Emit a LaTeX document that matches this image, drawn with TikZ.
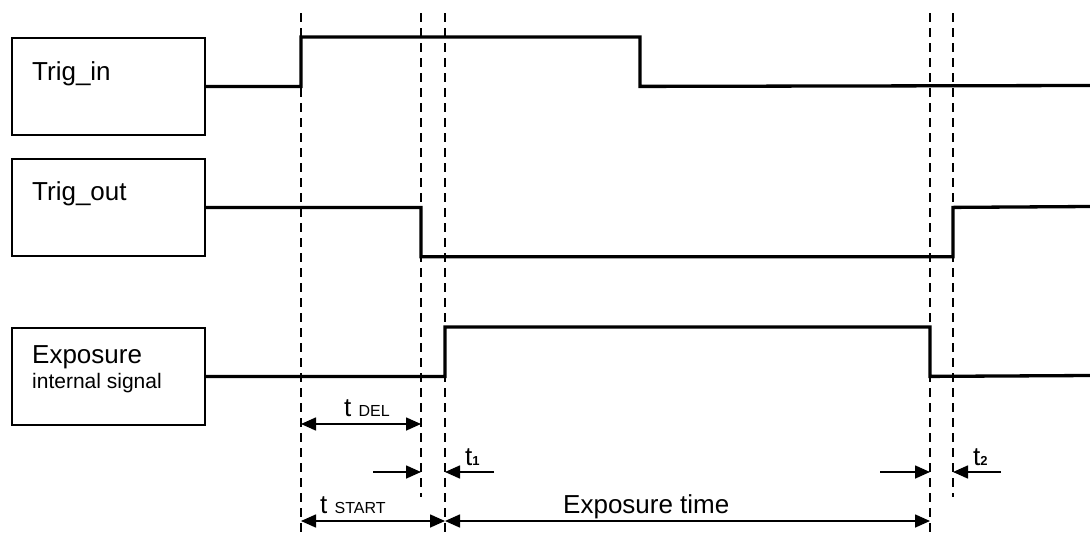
\documentclass[tikz,border=0pt]{standalone}
\usepackage{fontspec}
\setmainfont{Liberation Sans}
\usetikzlibrary{arrows.meta}
\begin{document}
\begin{tikzpicture}[x=1pt,y=-1pt,
  sigbox/.style={draw,line width=1.8pt,minimum width=193pt,minimum height=97pt,anchor=north west,inner sep=0pt},
  sig/.style={line width=3.3pt,line join=miter},
  guide/.style={line width=1.3pt,dash pattern=on 9pt off 6pt},
  dimarrow/.style={line width=1.6pt,-{Triangle[length=15pt,width=13pt]}},
  ddimarrow/.style={line width=1.6pt,{Triangle[length=15pt,width=13pt]}-{Triangle[length=15pt,width=13pt]}},
  lbl/.style={anchor=base west,inner sep=0pt,font=\fontsize{26}{30}\selectfont},
  small/.style={anchor=base west,inner sep=0pt,font=\fontsize{21}{24}\selectfont}]
\useasboundingbox (0,0) rectangle (1090,536);
% boxes
\node[sigbox] (bin) at (11,37) {};
\node[sigbox] (bout) at (11,158) {};
\node[sigbox] (bexp) at (11,327) {};
\node[lbl] (lin) at (32,80) {Trig\_in};
\node[lbl] (lout) at (32,200) {Trig\_out};
\node[lbl] (lexp) at (32,363) {Exposure};
\node[small] (lexp2) at (32,388) {internal signal};
% time markers
\coordinate (tA) at (301,0);
\coordinate (tB) at (421,0);
\coordinate (tC) at (445,0);
\coordinate (tD) at (930,0);
\coordinate (tE) at (953,0);
\coordinate (tF) at (640,0);
% dashed guides
\draw[guide] (301,13) -- (301,536);
\draw[guide] (421,13) -- (421,497);
\draw[guide] (445,13) -- (445,536);
\draw[guide] (930,13) -- (930,536);
\draw[guide] (953,13) -- (953,497);
% signals
\draw[sig] (bin.east) -- (tA |- bin.east) -- (tA |- bin.north) -- (tF |- bin.north) -- (tF |- bin.east) -- (1090,85.5);
\draw[sig] (bout.east) -- (tB |- bout.east) -- (tB |- bout.south) -- (tE |- bout.south) -- (tE |- bout.east) -- (1090,206.5);
\draw[sig] (bexp.east) -- (tC |- bexp.east) -- (tC |- bexp.north) -- (tD |- bexp.north) -- (tD |- bexp.east) -- (1090,375.5);
% dimension arrows
\draw[ddimarrow] (301,424) -- (421,424);
\node[lbl] (ldel) at (344,416) {t {\fontsize{16}{18}\selectfont DEL}};
\draw[dimarrow] (373,472) -- (421,472);
\draw[dimarrow] (494,472) -- (445,472);
\node[lbl] (lt1) at (465,465) {t{\fontsize{13}{15}\selectfont\bfseries 1}};
\draw[dimarrow] (880,472) -- (930,472);
\draw[dimarrow] (1001,472) -- (953,472);
\node[lbl] (lt2) at (973,465) {t{\fontsize{13}{15}\selectfont\bfseries 2}};
\draw[ddimarrow] (301,521) -- (445,521);
\node[lbl] (lstart) at (320,513) {t {\fontsize{16}{18}\selectfont START}};
\draw[ddimarrow] (445,521) -- (930,521);
\node[lbl] (lexpt) at (563,513) {Exposure time};
\end{tikzpicture}
\end{document}
